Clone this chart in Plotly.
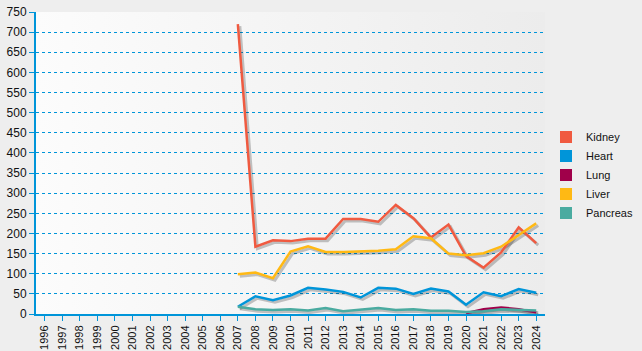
import base64
import plotly.graph_objects as go

years = [str(y) for y in range(1996, 2025)]

kidney = [None]*11 + [720, 167, 183, 181, 187, 187, 236, 236, 229, 271, 238, 190, 222, 144, 115, 153, 215, 176]
heart = [None]*11 + [18, 44, 34, 46, 65, 61, 55, 41, 65, 63, 50, 63, 56, 23, 54, 44, 62, 53]
lung = [None]*24 + [2, 12, 16, 12, 4]
liver = [None]*11 + [99, 103, 89, 155, 168, 154, 154, 156, 157, 161, 193, 188, 150, 146, 151, 167, 196, 225]
pancreas = [None]*11 + [18, 12, 10, 12, 9, 15, 7, 11, 15, 10, 12, 8, 8, 5, 7, 12, 11, 9]

series = [
    ("Kidney", kidney, "#f05a40"),
    ("Heart", heart, "#0095d9"),
    ("Lung", lung, "#a0004a"),
    ("Liver", liver, "#ffb914"),
    ("Pancreas", pancreas, "#4aaba0"),
]

fig = go.Figure()

# empty trace so the main axes (grid, ticks) render
fig.add_trace(go.Scatter(x=years, y=[0]*len(years), mode="lines",
                         line=dict(color="rgba(0,0,0,0)", width=0),
                         showlegend=False, hoverinfo="skip"))

# shadows (overlay axis x2/y2 shifted ~2px right/down)
for name, vals, col in series:
    fig.add_trace(go.Scatter(x=years, y=vals, mode="lines", xaxis="x2", yaxis="y2",
                             line=dict(color="rgba(0,0,0,0.22)", width=3),
                             showlegend=False, hoverinfo="skip"))
# real lines
for name, vals, col in series:
    fig.add_trace(go.Scatter(x=years, y=vals, mode="lines", name=name, xaxis="x3", yaxis="y3",
                             line=dict(color=col, width=2.5), showlegend=False))
# legend entries with square swatches
for name, vals, col in series:
    fig.add_trace(go.Scatter(x=[None], y=[None], mode="markers", name=name, xaxis="x3", yaxis="y3",
                             marker=dict(symbol="square", size=10, color=col)))

W, H = 509, 302
px_x = 29 / W
px_y = 750 / H

svg = ('<svg xmlns="http://www.w3.org/2000/svg" viewBox="0 0 100 100" preserveAspectRatio="none">'
       '<defs><linearGradient id="g" x1="0" y1="0" x2="1" y2="0">'
       '<stop offset="0" stop-color="#fcfcfc"/><stop offset="1" stop-color="#ececec"/>'
       '</linearGradient></defs><rect x="0" y="0" width="100" height="100" fill="url(#g)"/></svg>')
src = "data:image/svg+xml;base64," + base64.b64encode(svg.encode()).decode()

axis_col = "#0095d9"
common_x = dict(type="category", categoryorder="array", categoryarray=years)
fig.update_layout(
    width=642, height=351,
    margin=dict(l=36, r=97, t=12, b=37, autoexpand=False),
    paper_bgcolor="#eeeeee",
    plot_bgcolor="rgba(0,0,0,0)",
    font=dict(family="Liberation Sans, Arial, sans-serif", size=11, color="#111111"),
    images=[dict(source=src, xref="paper", yref="paper", x=0, y=1, sizex=1, sizey=1,
                 sizing="stretch", layer="below", xanchor="left", yanchor="top")],
    xaxis=dict(**common_x, range=[-0.5, 28.5], tickangle=-90, showgrid=False,
               showline=True, linecolor=axis_col, linewidth=2,
               ticks="outside", ticklen=5, tickcolor=axis_col, tickwidth=1,
               tickfont=dict(size=11), zeroline=False, automargin=False),
    yaxis=dict(range=[0, 750], dtick=50, showgrid=True, gridcolor=axis_col, griddash="dot",
               gridwidth=1, showline=True, linecolor=axis_col, linewidth=2,
               ticks="outside", ticklen=5, tickcolor=axis_col, tickwidth=1,
               zeroline=False, tickfont=dict(size=12), automargin=False),
    xaxis2=dict(**common_x, overlaying="x", range=[-0.5 - 2 * px_x, 28.5 - 2 * px_x], visible=False),
    yaxis2=dict(overlaying="y", range=[2 * px_y, 750 + 2 * px_y], visible=False),
    xaxis3=dict(**common_x, overlaying="x", range=[-0.5, 28.5], visible=False),
    yaxis3=dict(overlaying="y", range=[0, 750], visible=False),
    legend=dict(xref="container", yref="container", x=546 / 642, y=1 - 175 / 351,
                xanchor="left", yanchor="middle",
                bgcolor="rgba(0,0,0,0)", font=dict(size=11), tracegroupgap=0,
                itemsizing="constant"),
    showlegend=True,
)

fig.write_html("out.html")
